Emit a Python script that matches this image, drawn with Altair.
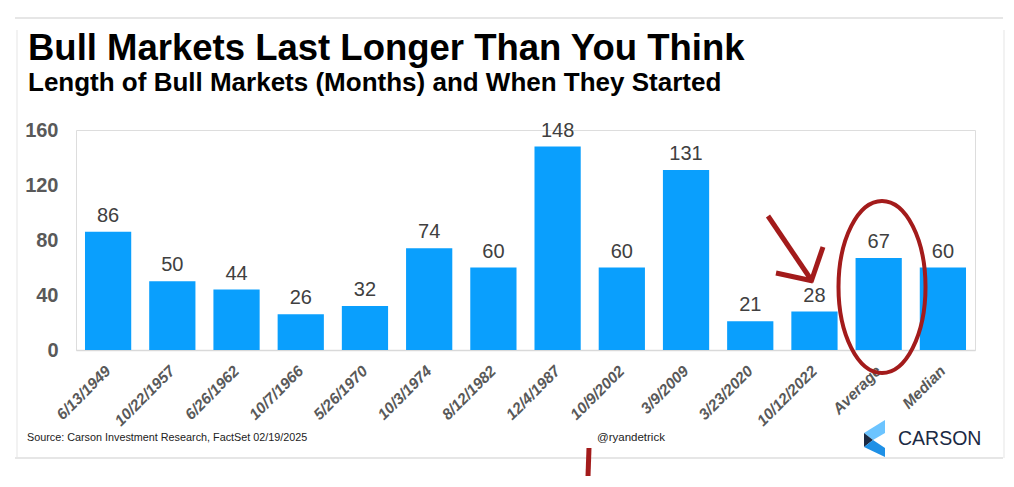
import altair as alt
import pandas as pd

# ---- data ----
start_dates = ["6/13/1949", "10/22/1957", "6/26/1962", "10/7/1966", "5/26/1970",
               "10/3/1974", "8/12/1982", "12/4/1987", "10/9/2002", "3/9/2009",
               "3/23/2020", "10/12/2022", "Average", "Median"]
months = [86, 50, 44, 26, 32, 74, 60, 148, 60, 131, 21, 28, 67, 60]
y_ticks = [0, 40, 80, 120, 160]

title_text = "Bull Markets Last Longer Than You Think"
subtitle_text = "Length of Bull Markets (Months) and When They Started"
source_text = "Source: Carson Investment Research, FactSet 02/19/2025"
handle_text = "@ryandetrick"
logo_text = "CARSON"

df = pd.DataFrame({"date": start_dates, "months": months})

BLUE = "#0A9FFD"
RED = "#A31B1B"
SANS = "Liberation Sans, Arial, sans-serif"

# plot origin is at page (76,130)
OX, OY = 76, 130

x_enc = alt.X("date:N", sort=start_dates,
              scale=alt.Scale(paddingInner=0.28, paddingOuter=0.14),
              axis=alt.Axis(title=None, labelAngle=-45, labelAlign="right",
                            labelBaseline="middle", labelFontSize=15.5,
                            labelFontWeight="bold", labelFontStyle="italic",
                            labelColor="#595959", labelFont=SANS,
                            ticks=False, domainColor="#D9D9D9", domainWidth=1.5,
                            labelPadding=18))
y_enc = alt.Y("months:Q", scale=alt.Scale(domain=[0, 160], nice=False),
              axis=alt.Axis(title=None, values=y_ticks, grid=False, domain=False,
                            ticks=False, labelFontSize=20, labelFontWeight="bold",
                            labelColor="#595959", labelFont=SANS, labelPadding=18))

base = alt.Chart(df)
bars = base.mark_bar(color=BLUE).encode(x=x_enc, y=y_enc)
vals = base.mark_text(baseline="bottom", dy=-6, fontSize=20, color="#404040",
                      font=SANS).encode(x=alt.X("date:N", sort=start_dates),
                                        y="months:Q", text="months:Q")

def txt(text, px, py, size, weight="normal", color="#000000", font=SANS, align="left"):
    return alt.Chart(pd.DataFrame({"t": [text]})).mark_text(
        align=align, baseline="alphabetic", fontSize=size, fontWeight=weight,
        color=color, font=font).encode(
        x=alt.value(px - OX), y=alt.value(py - OY), text="t:N")

title = txt(title_text, 28, 60, 36.5, "bold")
subtitle = txt(subtitle_text, 28, 91, 26, "bold")
source = txt(source_text, 27, 441, 10.8, color="#222222")
handle = txt(handle_text, 597, 441, 11.5, color="#222222")
logo = txt(logo_text, 898, 445, 19.5, color="#1B2A44")

def rule(x1, y1, x2, y2, color, w):
    return alt.Chart(pd.DataFrame({"a": [0]})).mark_rule(
        color=color, strokeWidth=w, strokeCap="butt").encode(
        x=alt.value(x1 - OX), y=alt.value(y1 - OY),
        x2=alt.value(x2 - OX), y2=alt.value(y2 - OY))

frame = [
    rule(15, 18, 1003, 18, "#E6E6E6", 2),
    rule(17, 30, 17, 458, "#EEEEEE", 1.5),
    rule(1004, 30, 1004, 458, "#EEEEEE", 1.5),
    rule(15, 458, 1003, 458, "#E6E6E6", 2),
]

arrow = [
    rule(768, 216, 812, 281, RED, 5),
    rule(823, 247, 811, 282, RED, 5),
    rule(776, 273, 813, 281, RED, 5),
    rule(589, 448, 588, 476, RED, 5),
]

def shape(path, px, py, fill=None, stroke=None, sw=0):
    kw = dict(shape=path, size=4, opacity=1)
    if fill:
        kw.update(filled=True, fill=fill, strokeWidth=0)
    else:
        kw.update(filled=False, stroke=stroke, strokeWidth=sw)
    return alt.Chart(pd.DataFrame({"a": [0]})).mark_point(**kw).encode(
        x=alt.value(px - OX), y=alt.value(py - OY))

ellipse = shape("M0,-86 A43.5,86 0 1,1 0,86 A43.5,86 0 1,1 0,-86 Z", 882, 287,
                stroke=RED, sw=4)
# logo chevron pieces (pixel coordinates relative to 864,420)
chev_top = shape("M21,0 L21,13 L9,20 L0,13 Z", 864, 420, fill="#6CC4FF")
chev_mid = shape("M0,13 L9,20 L0,27 Z", 864, 420, fill="#1B2A44")
chev_bot = shape("M0,27 L9,20 L21,28 L21,37 Z", 864, 420, fill="#1E90E6")

chart = alt.layer(*frame, bars, vals, title, subtitle, source, handle, logo,
                  chev_top, chev_mid, chev_bot, ellipse, *arrow).properties(
    width=899, height=220,
    autosize=alt.AutoSizeParams(type="none"),
    padding={"left": 68, "top": 122, "right": 31, "bottom": 129},
).configure_view(stroke=None).configure(background="white")

chart.save("out.html", embed_options={"renderer": "svg", "actions": False})
